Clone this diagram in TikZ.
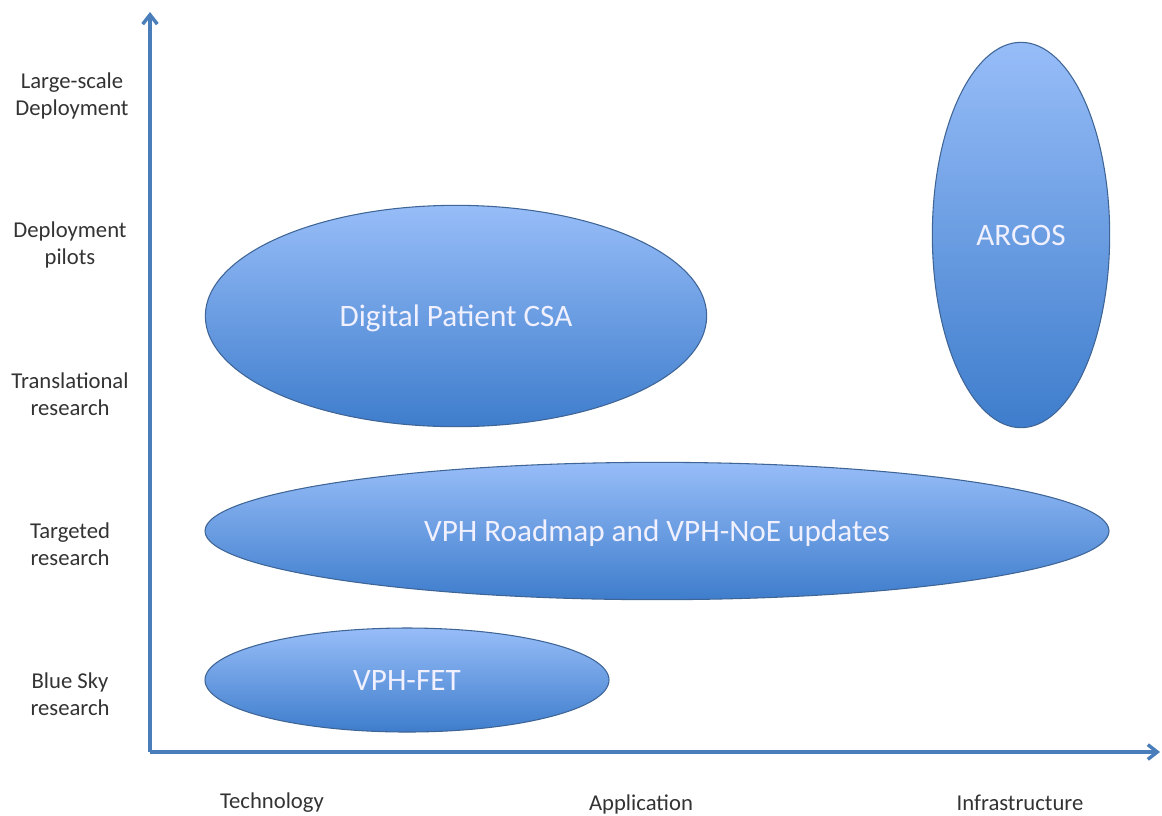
\documentclass[tikz,border=0pt]{standalone}
\usepackage{fontspec}
\setmainfont{Carlito}
\usetikzlibrary{arrows.meta,positioning,shapes.geometric}
\definecolor{axisblue}{HTML}{4A7EBB}
\definecolor{topblue}{HTML}{97BDF8}
\definecolor{botblue}{HTML}{3E7DCC}
\definecolor{rimblue}{HTML}{3F6596}
\definecolor{labelgrey}{HTML}{333333}

\begin{document}
\begin{tikzpicture}[x = 0.75pt, y = -0.75pt,
    blob/.style={ellipse, draw = rimblue, line width = 0.8pt, top color = topblue,
      bottom color = botblue, text = white!94!blue, text depth = 0pt,
      font = \fontsize{23.4}{28}\selectfont},
    level/.style={align = center, text = labelgrey, inner sep = 1pt,
      font = \fontsize{17}{20}\selectfont},
    axis/.style={axisblue, line width = 2.6pt, -{Straight Barb[length=7pt, width=11pt]}}]
        \useasboundingbox (0,0) rectangle (1162,815);
        \coordinate (origin) at (150,752);
        \coordinate (ytip) at (150,12);
        \coordinate (xtip) at (1160,752);
        \draw [axis] (origin) -- (ytip);
        \draw [axis] (origin) -- (xtip);
        % levels on the vertical axis
        \node (l1) at (72,96) [level] {Large-scale\\Deployment};
        \node (l2) at (70,245) [level] {Deployment\\pilots};
        \node (l3) at (70,394) [level] {Translational\\research};
        \node (l4) at (70,544) [level] {Targeted\\research};
        \node (l5) at (70,694) [level] {Blue Sky\\research};
        % kinds on the horizontal axis
        \node (k1) at (272,803) [level] {Technology};
        \node (k2) at (641,804) [level] {Application};
        \node (k3) at (1020,803) [level] {Infrastructure};
        % projects
        \node (dpcsa) at (456,316) [blob, minimum width = 376pt, minimum height = 166pt] {Digital Patient CSA};
        \node (argos) at (1021,235) [blob, minimum width = 133pt, minimum height = 289pt] {ARGOS};
        \node (roadmap) at (657,531) [blob, minimum width = 678pt, minimum height = 103pt] {VPH Roadmap and VPH-NoE updates};
        \node (fet) at (407,680) [blob, minimum width = 303pt, minimum height = 78pt] {VPH-FET};
    \end{tikzpicture}
\end{document}
